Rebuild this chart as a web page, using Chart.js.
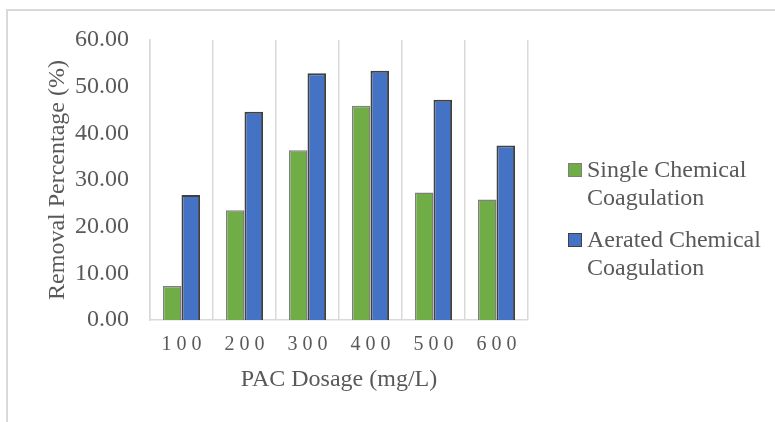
<!DOCTYPE html>
<html>
<head>
<meta charset="utf-8">
<script src="https://cdn.jsdelivr.net/npm/chart.js@4.4.1/dist/chart.umd.min.js"></script>
<style>
  html, body { margin: 0; padding: 0; background: #fff; }
  #wrap { position: relative; width: 775px; height: 422px; overflow: hidden; }
  #frame { position: absolute; left: 6px; top: 9px; width: 800px; height: 450px;
    border-top: 2px solid #d9d9d9; border-left: 2px solid #d9d9d9; }
  #chart { position: absolute; left: 0; top: 0; }
  #legend { position: absolute; left: 568px; top: 155px;
    font-family: "Liberation Serif", "Times New Roman", serif; font-size: 24px;
    line-height: 28px; color: #595959; }
  .item { display: flex; align-items: flex-start; margin-bottom: 14px; }
  .box { width: 14px; height: 14px; box-sizing: border-box; margin-top: 8px; margin-right: 5px; }
  .txt { width: 182px; }
</style>
</head>
<body>
<div id="wrap">
  <div id="frame"></div>
  <canvas id="chart" width="775" height="422"></canvas>
  <div id="legend"></div>
</div>
<script>
const dosages = ['100', '200', '300', '400', '500', '600'];
const singleValues = [7.3, 23.5, 36.4, 45.9, 27.3, 25.8];
const aeratedValues = [26.8, 44.6, 52.9, 53.4, 47.2, 37.4];
const seriesNames = ['Single Chemical Coagulation', 'Aerated Chemical Coagulation'];
const fillColors = ['#70ad47', '#4472c4'];
const edgeColors = ['#7f7f7f', '#404040'];

const serif = 'Liberation Serif';
const textGrey = '#595959';
const lineGrey = '#d9d9d9';

const datasets = [singleValues, aeratedValues].map((vals, i) => ({
  label: seriesNames[i],
  data: vals,
  backgroundColor: fillColors[i],
  borderColor: edgeColors[i],
  borderWidth: i === 0 ? 1.5 : 2,
  barPercentage: 1,
  categoryPercentage: 0.59
}));

new Chart(document.getElementById('chart'), {
  type: 'bar',
  data: { labels: dosages, datasets },
  options: {
    responsive: false,
    animation: false,
    layout: { padding: { left: 39, right: 247, top: 40, bottom: 24 } },
    plugins: { legend: { display: false }, tooltip: { enabled: false } },
    scales: {
      x: {
        grid: { color: lineGrey, lineWidth: 1.5, drawTicks: false, offset: true },
        border: { color: lineGrey, width: 1.5 },
        ticks: {
          color: textGrey, padding: 13,
          font: { family: serif, size: 20 },
          callback: function (v) { return this.getLabelForValue(v).split('').join(' '); }
        },
        title: {
          display: true, text: 'PAC Dosage (mg/L)', color: textGrey,
          font: { family: serif, size: 24 }, padding: { top: 4, bottom: 4 }
        },
        afterFit: s => { s.height = 78; }
      },
      y: {
        min: 0, max: 60,
        grid: { display: false, drawTicks: false },
        border: { color: lineGrey, width: 1.5 },
        ticks: {
          stepSize: 10, color: textGrey, padding: 21,
          font: { family: serif, size: 24 },
          callback: v => v.toFixed(2)
        },
        title: {
          display: true, text: 'Removal Percentage (%)', color: textGrey,
          font: { family: serif, size: 24 }, padding: { top: 4, bottom: 4 }
        },
        afterFit: s => { s.width = 111; }
      }
    }
  }
});

const legend = document.getElementById('legend');
seriesNames.forEach((name, i) => {
  const item = document.createElement('div');
  item.className = 'item';
  const box = document.createElement('div');
  box.className = 'box';
  box.style.background = fillColors[i];
  box.style.border = '1.5px solid ' + edgeColors[i];
  const txt = document.createElement('div');
  txt.className = 'txt';
  txt.textContent = name;
  item.appendChild(box);
  item.appendChild(txt);
  legend.appendChild(item);
});
</script>
</body>
</html>
